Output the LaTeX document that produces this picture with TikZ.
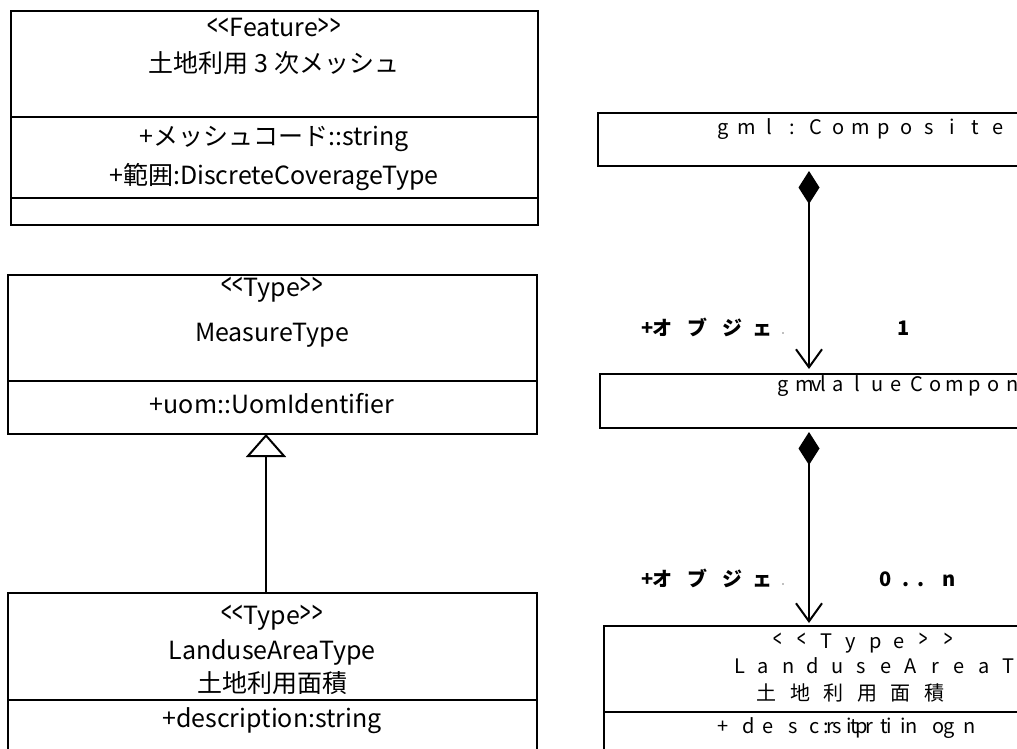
\documentclass[tikz,border=0pt]{standalone}
\usepackage{fontspec}
\setmainfont{Noto Sans CJK JP}
\usetikzlibrary{arrows.meta}
\newcommand\glyphrow[1]{\foreach \gx/\gc in {#1}{\makebox[0pt][l]{\hspace*{\gx pt}\makebox[0pt]{\gc}}}}
\newcommand\lt{\raisebox{-0.03em}{\scalebox{0.75}[1.3]{<}}}
\newcommand\gt{\raisebox{-0.03em}{\scalebox{0.75}[1.3]{>}}}
\newcommand\lguil{\lt\kern0.03em\lt\kern0.03em}
\newcommand\rguil{\kern0.03em\gt\kern0.03em\gt}
\begin{document}
\begin{tikzpicture}[x=1pt,y=-1pt,line width=2pt,
  box/.style={draw,line width=2pt,inner sep=0,outer sep=0,anchor=north west},
  lt/.style={font=\fontsize{25}{30}\selectfont,inner sep=0,text height=0.8em,text depth=0.2em},
  rt/.style={font=\fontsize{20}{24}\selectfont,inner sep=0,text height=0.8em,text depth=0.2em,anchor=west},
  lab/.style={font=\bfseries\fontsize{20}{24}\selectfont,inner sep=0,text height=0.8em,text depth=0.2em,anchor=west},
  gen/.style={-{Triangle[open,length=23pt,width=40pt]}},
  comp/.style={{Diamond[length=33pt,width=21pt]}-{Straight Barb[length=18pt,width=26pt]}}]
\useasboundingbox (0,0) rectangle (1017,749);
\clip (0,0) rectangle (1017,749);
\fill[white] (0,0) rectangle (1017,749);
% left boxes
\node[box,minimum width=527pt,minimum height=214pt] (feat) at (11,11) {};
\draw (11,117) -- (538,117);
\draw (10,198) -- (538,198);
\node[box,minimum width=529pt,minimum height=159pt] (meas) at (8,275) {};
\draw (8,381) -- (537,381);
\node[box,minimum width=529pt,minimum height=175pt] (land) at (8,593) {};
\draw (8,700) -- (537,700);
% right boxes
\node[box,minimum width=440pt,minimum height=53pt] (compo) at (598,113) {};
\node[box,minimum width=440pt,minimum height=54pt] (vc) at (600,374) {};
\node[box,minimum width=440pt,minimum height=150pt] (rland) at (604,626) {};
\draw (604,712) -- (1030,712);
% left texts
\node[lt] (f1) at (274,34) {\lguil Feature\rguil};
\node[lt] (f2) at (274,70) {土地利用 3 次メッシュ};
\node[lt] (f3) at (274,143) {+メッシュコード::string};
\node[lt] (f4) at (274,181) {+範囲:DiscreteCoverageType};
\node[lt] (m1) at (272,293) {\lguil Type\rguil};
\node[lt] (m2) at (272,338) {MeasureType};
\node[lt] (m3) at (272,410) {+uom::UomIdentifier};
\node[lt] (l1) at (272,621) {\lguil Type\rguil};
\node[lt] (l2) at (272,656) {LanduseAreaType};
\node[lt] (l3) at (272,689) {土地利用面積};
\node[lt] (l4) at (272,724) {+description:string};
% right texts
\node[rt] (r1) at (0,132) {\glyphrow{722/g,745/m,768/l,791/:,814/C,837/o,859/m,882/p,905/o,928/s,951/i,974/t,997/e}};
\node[rt] (r2) at (0,388) {\glyphrow{782/g,803/m,815/v,822/l,837/a,856/l,876/u,895/e,915/C,934/o,953/m,973/p,992/o,1011/n}};
\node[rt] (r3) at (0,645) {\glyphrow{776/\lt,800/\lt,825/T,849/y,874/p,898/e,922/\gt,947/\gt}};
\node[rt] (r4) at (0,670) {\glyphrow{738/L,762/a,787/n,811/d,836/u,860/s,885/e,909/A,934/r,958/e,983/a,1007/T}};
\node[rt] (r5) at (0,697) {\glyphrow{765/土,799/地,832/利,866/用,899/面,933/積}};
\node[rt] (r6) at (0,730) {\glyphrow{722/+,747/d,767/e,792/s,813/c,825/:,829/r,836/s,848/i,853/t,860/p,868/r,883/t,888/i,902/i,910/n,937/o,948/g,968/n}};
% connector labels
\node[lab] (a1) at (0,332) {\glyphrow{646/+,661/オ,696/ブ,731/ジ,761/ェ}};
\node[lab] (a2) at (0,332) {\glyphrow{902/1}};
\node[lab] (b1) at (0,583) {\glyphrow{646/+,661/オ,696/ブ,731/ジ,761/ェ}};
\node[lab] (b2) at (0,583) {\glyphrow{884/0,905/.,920/.,948/n}};
\fill[gray] (783,333) circle (0.9);
\fill[gray] (783,584) circle (0.9);
% connectors
\coordinate (gx) at (266,0);
\coordinate (cx) at (809,0);
\draw[gen] (land.north -| gx) -- (meas.south -| gx);
\draw[comp,shorten <=5pt,shorten >=5pt] (compo.south -| cx) -- (vc.north -| cx);
\draw[comp,shorten <=4pt,shorten >=3pt] (vc.south -| cx) -- (rland.north -| cx);
\end{tikzpicture}
\end{document}
